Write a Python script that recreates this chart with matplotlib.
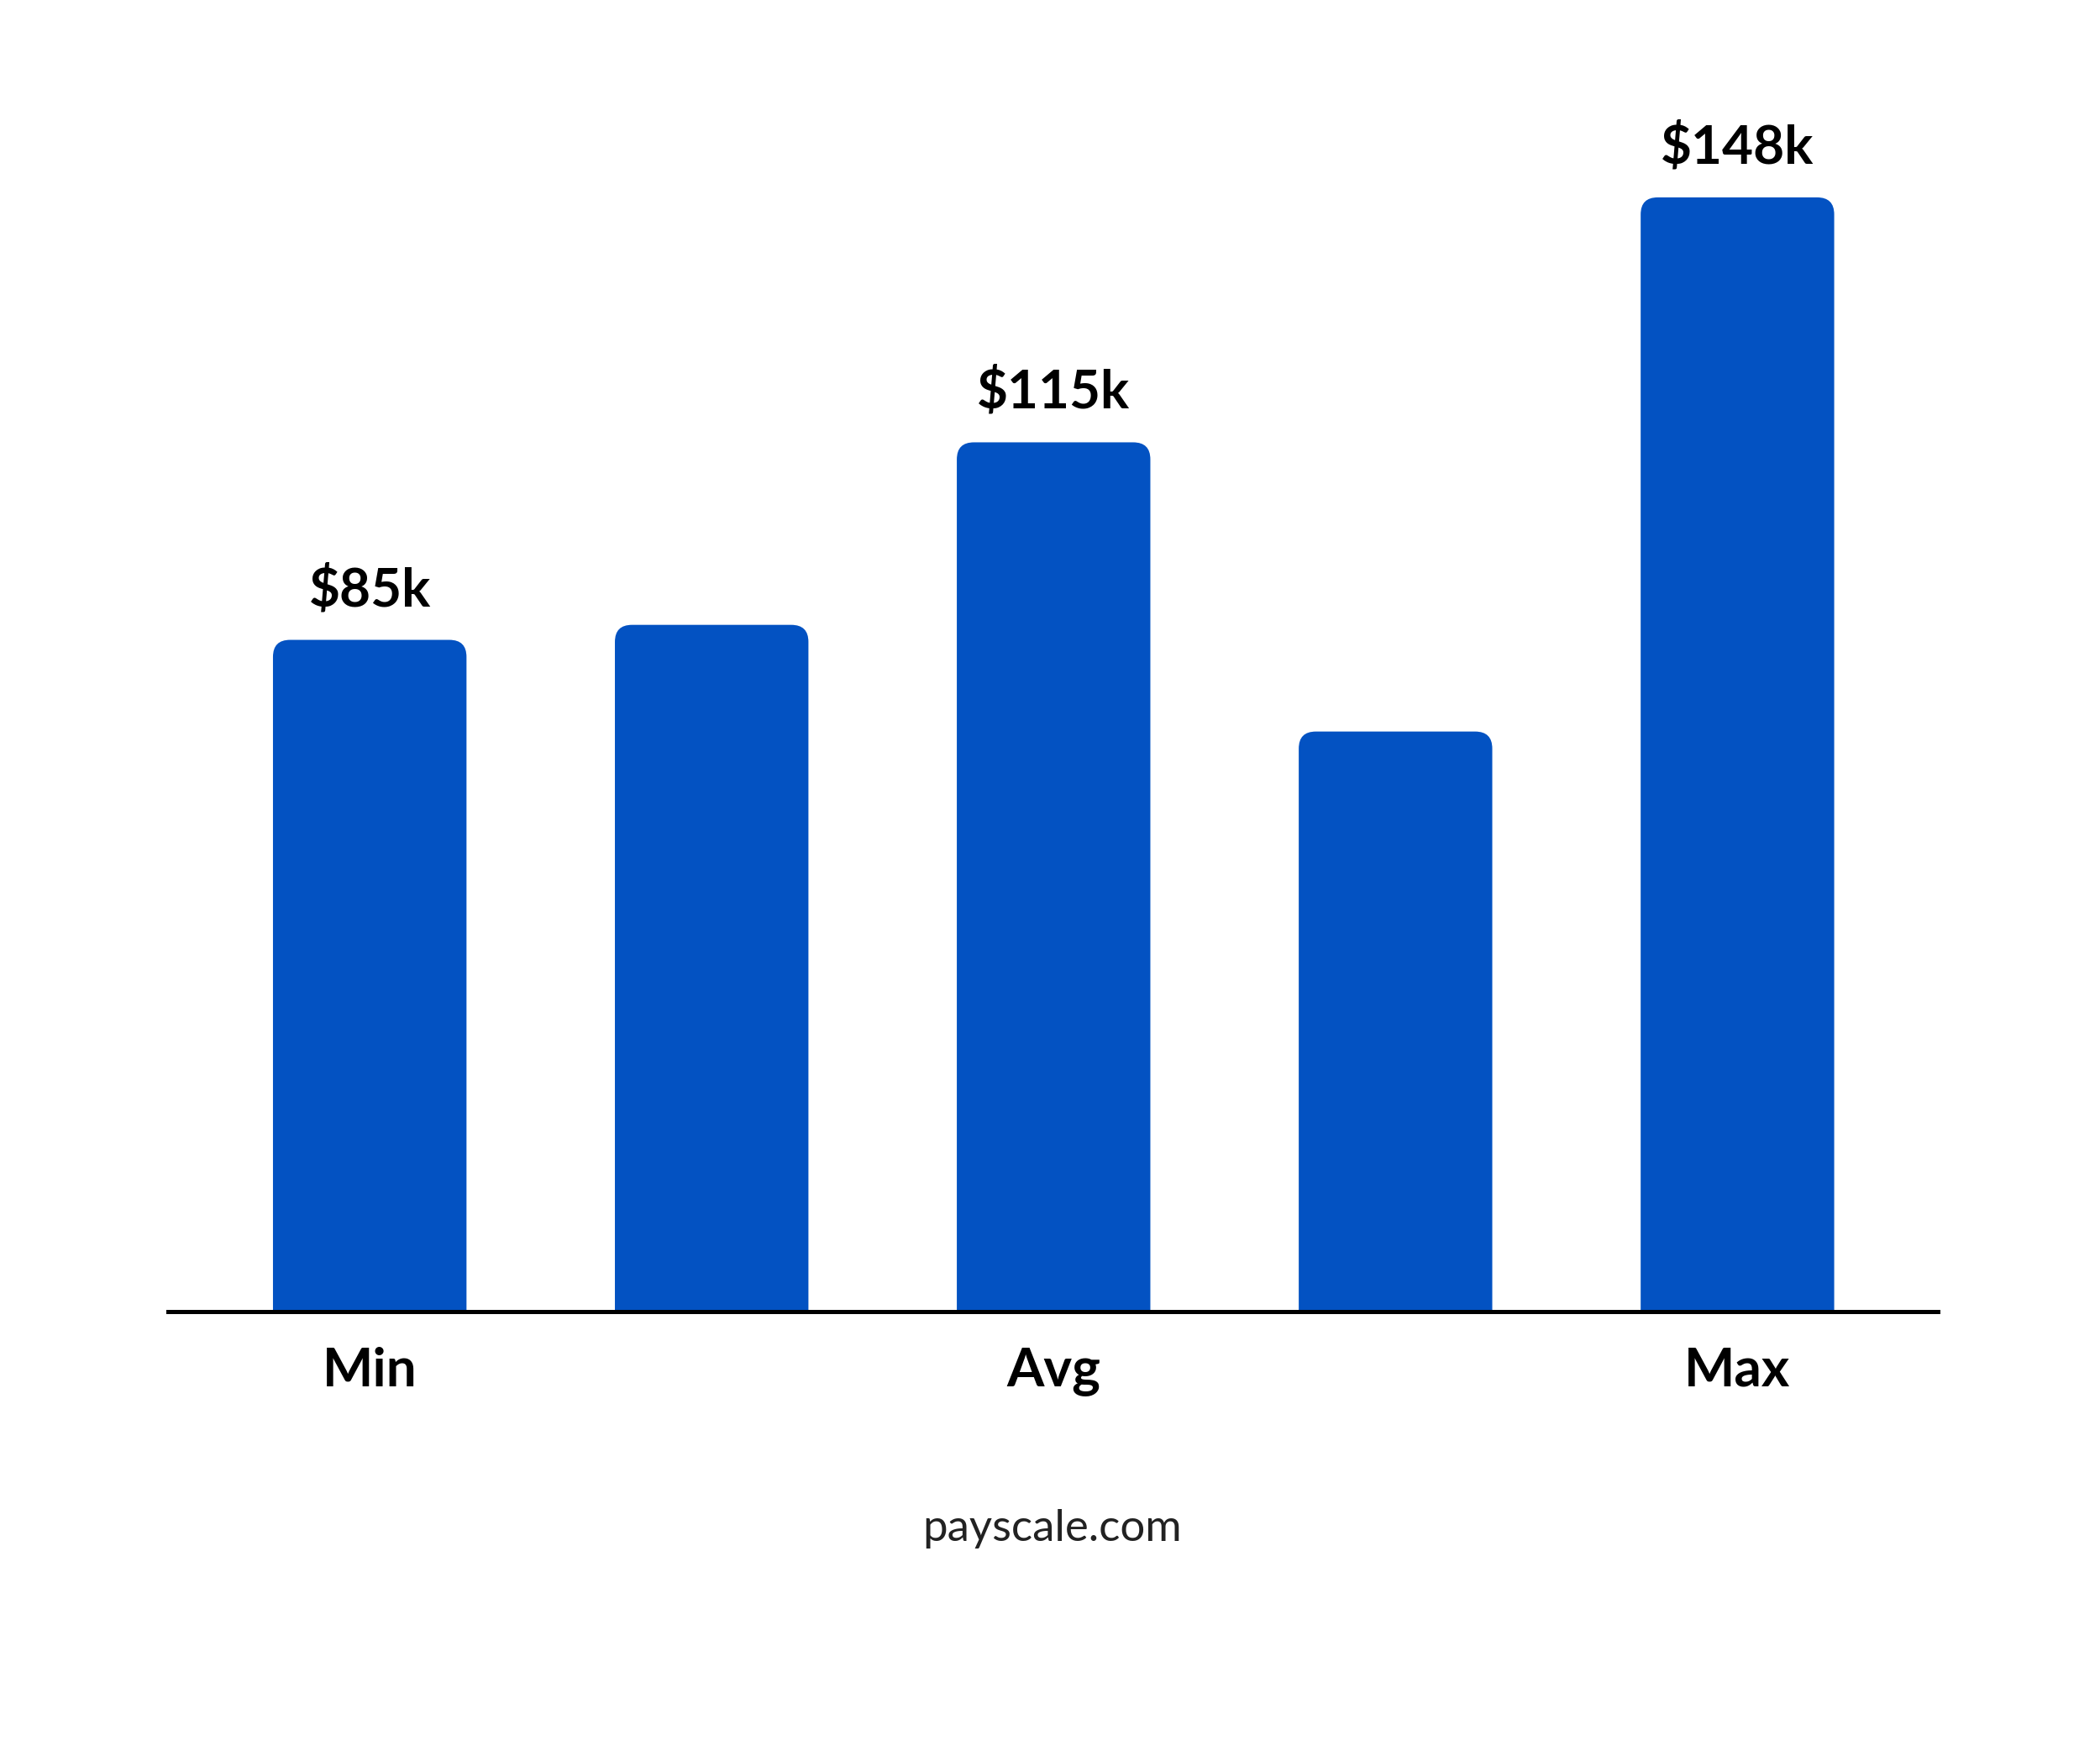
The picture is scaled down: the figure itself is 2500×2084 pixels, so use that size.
import matplotlib.pyplot as plt
from matplotlib.patches import FancyBboxPatch

# bar heights (k$), labels only on some bars
heights = [85, 86.9, 110, 73.4, 141]
value_labels = ['$85k', '', '$115k', '', '$148k']
tick_pos = [0, 2, 4]
tick_labels = ['Min', 'Avg', 'Max']

blue = '#0352C2'
plt.rcParams['font.family'] = ['Lato', 'DejaVu Sans']

fig = plt.figure(figsize=(25, 20.84), dpi=100)
ax = fig.add_axes([0.08, 0.251, 0.8426, 0.699])
ax.set_xlim(-0.59, 4.585)
ax.set_ylim(0, 154.9)

bars = ax.bar(range(len(heights)), heights, width=0.566, color=blue)
for b, lab in zip(bars, value_labels):
    x, w, h = b.get_x(), b.get_width(), b.get_height()
    b.set_visible(False)
    pad = 0.05
    ax.add_patch(FancyBboxPatch((x + pad, -10), w - 2 * pad, h + 10 - pad * 43,
                                boxstyle=f'round,pad={pad}', mutation_aspect=43,
                                facecolor=blue, edgecolor='none'))
    if lab:
        ax.annotate(lab, (x + w / 2, h), xytext=(0, 22), textcoords='offset points',
                    ha='center', va='bottom', fontsize=46, fontweight='bold')

for s in ['top', 'right', 'left']:
    ax.spines[s].set_visible(False)
ax.spines['bottom'].set_linewidth(3.6)
ax.spines['bottom'].set_zorder(5)
ax.set_yticks([])
ax.set_xticks(tick_pos)
ax.set_xticklabels(tick_labels, fontsize=46, fontweight='bold')
ax.tick_params(axis='x', length=0, pad=30)

fig.text(0.501, 0.127, 'payscale.com', ha='center', va='center', fontsize=38, color='#222222')

fig.savefig('out.png', facecolor='white')
